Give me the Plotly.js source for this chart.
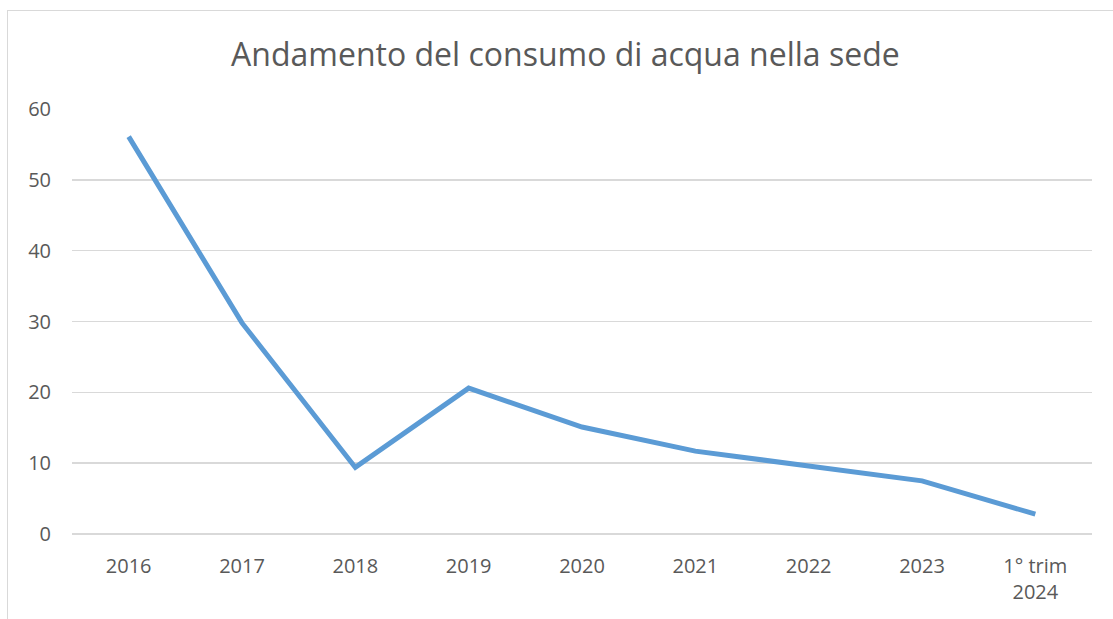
<!DOCTYPE html>
<html>
<head>
<meta charset="utf-8">
<script src="https://cdn.plot.ly/plotly-3.0.1.min.js"></script>
<style>
  html, body { margin: 0; padding: 0; background: #fff; }
  #frame { position: absolute; left: 7px; top: 10px; width: 1130px; height: 640px; border: 1px solid #d9d9d9; pointer-events: none; }
  #chart { position: absolute; left: 0; top: 0; width: 1113px; height: 619px; }
</style>
</head>
<body>
<div id="chart"></div>
<div id="frame"></div>
<script>
const categories = ["2016", "2017", "2018", "2019", "2020", "2021", "2022", "2023", "1° trim<br>2024"];
const consumo = [56.1, 29.8, 9.4, 20.6, 15.1, 11.7, 9.6, 7.5, 2.8];
const yTicks = [0, 10, 20, 30, 40, 50, 60];

const trace = {
  x: categories,
  y: consumo,
  type: 'scatter',
  mode: 'lines',
  line: { color: '#5B9BD5', width: 5, shape: 'linear' },
  hoverinfo: 'x+y'
};

const layout = {
  width: 1113,
  height: 619,
  margin: { l: 72, r: 21, t: 109, b: 85 },
  paper_bgcolor: '#ffffff',
  plot_bgcolor: '#ffffff',
  showlegend: false,
  title: {
    text: 'Andamento del consumo di acqua nella sede',
    font: { family: 'Open Sans, sans-serif', size: 32, color: '#595959' },
    x: 0.508, xanchor: 'center',
    y: 1 - 55 / 619, yref: 'container', yanchor: 'middle'
  },
  font: { family: 'Open Sans, sans-serif', color: '#595959' },
  xaxis: {
    type: 'category',
    range: [-0.5, 8.5],
    showgrid: false,
    zeroline: false,
    showline: false,
    ticks: '',
    ticklabelstandoff: 18,
    tickfont: { size: 20, color: '#595959' },
    automargin: false
  },
  yaxis: {
    range: [0, 60],
    tickvals: yTicks,
    showgrid: true,
    gridcolor: '#d9d9d9',
    gridwidth: 1.5,
    zeroline: true,
    zerolinecolor: '#d9d9d9',
    zerolinewidth: 1.5,
    showline: false,
    ticks: '',
    ticklabelstandoff: 20,
    tickfont: { size: 20, color: '#595959' },
    automargin: false
  }
};

Plotly.newPlot('chart', [trace], layout, { displayModeBar: false, staticPlot: true });
</script>
</body>
</html>
